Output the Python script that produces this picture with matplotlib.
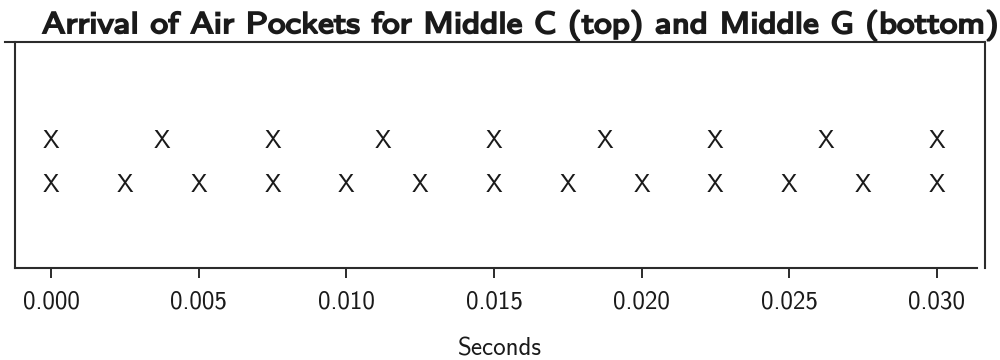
import matplotlib
matplotlib.use("Agg")
import matplotlib.pyplot as plt
from matplotlib.font_manager import FontProperties
from matplotlib.patches import PathPatch
from matplotlib.textpath import TextPath
from matplotlib.transforms import Affine2D, IdentityTransform

# Arrival times (s) of the air pockets for each note.
middle_c_times = [0.0, 0.00375, 0.0075, 0.01125, 0.015, 0.01875, 0.0225, 0.02625, 0.030]
middle_g_times = [0.0, 0.0025, 0.005, 0.0075, 0.010, 0.0125, 0.015, 0.0175,
                  0.020, 0.0225, 0.025, 0.0275, 0.030]
row_c = 1
row_g = 0
x_ticks = [0.000, 0.005, 0.010, 0.015, 0.020, 0.025, 0.030]
x_tick_labels = ["0.000", "0.005", "0.010", "0.015", "0.020", "0.025", "0.030"]
title = "Arrival of Air Pockets for Middle C (top) and Middle G (bottom)"

FONT = "cmss10"
INK = "#1a1a1a"
FRAME = "#2b2b2b"

plt.rcParams["font.family"] = FONT
plt.rcParams["axes.unicode_minus"] = False

fig = plt.figure(figsize=(10, 3.6), dpi=100)
ax = fig.add_axes([0.015, 0.2556, 0.970, 0.6278])

for t in middle_c_times:
    ax.text(t, row_c, "X", ha="center", va="center", fontsize=18, color=INK)
for t in middle_g_times:
    ax.text(t, row_g, "X", ha="center", va="center", fontsize=18, color=INK)

ax.set_xlim(-0.00122, 0.03163)
ax.set_ylim(-1.88, 3.26)

ax.set_xticks(x_ticks)
ax.set_xticklabels(x_tick_labels)
ax.set_yticks([])
ax.tick_params(axis="x", direction="out", length=7.5, width=1.4, color=FRAME,
               pad=9, labelsize=18, labelcolor=INK)

for side in ["top", "bottom", "left", "right"]:
    ax.spines[side].set_color(FRAME)
    ax.spines[side].set_linewidth(1.5)
ax.spines["top"].set_bounds(-0.00155, 0.03163)
ax.spines["bottom"].set_bounds(-0.00122, 0.03136)

ax.set_xlabel("Seconds", fontsize=18, color=INK, labelpad=17)

# Bold, wide title: outline of the sans glyphs, stretched and stroked (pixel coords).
tp = TextPath((0, 0), title, size=30, prop=FontProperties(family=FONT))
ext = tp.get_extents()
left_px, right_px, baseline_px = 43, 996, 360 - 33
sx = (right_px - left_px) / ext.width
tr = Affine2D().translate(-ext.x0, 0).scale(sx, 1.0).translate(left_px, baseline_px)
fig.add_artist(PathPatch(tr.transform_path(tp), transform=IdentityTransform(),
                         facecolor=INK, edgecolor=INK, linewidth=1.4))

fig.savefig("out.png", dpi=100)
